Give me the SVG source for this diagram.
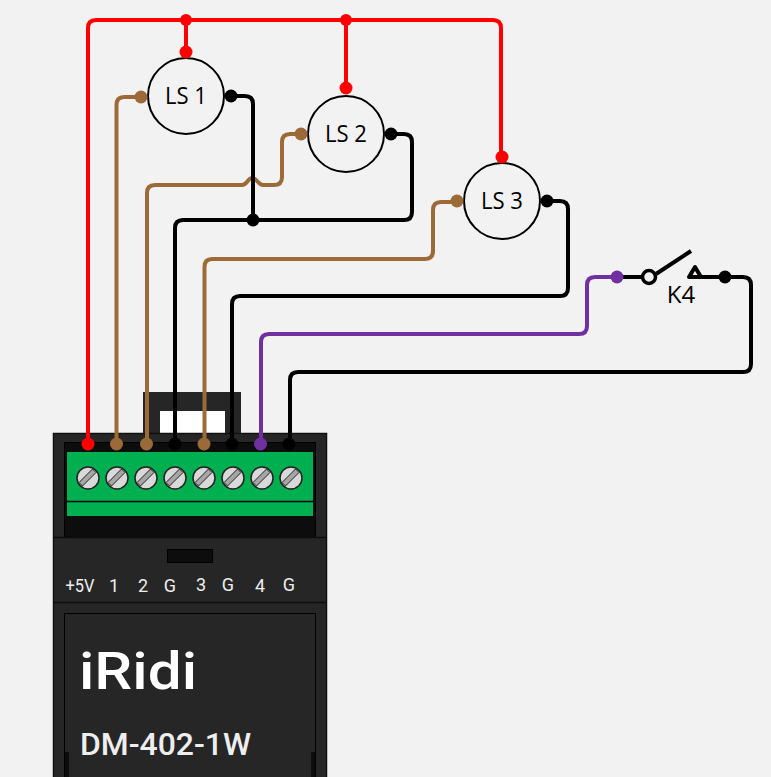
<svg xmlns="http://www.w3.org/2000/svg" width="771" height="777" viewBox="0 0 771 777">
<style>
.w{fill:none;stroke-width:4;stroke-linejoin:round}
.red{stroke:#f00}.brn{stroke:#9c6a37}.blk{stroke:#000}.pur{stroke:#7030a0}
.dr{fill:#f00}.db{fill:#9c6a37}.dk{fill:#000}.dp{fill:#7030a0}
.ls{fill:#f2f2f2;stroke:#000;stroke-width:2}
.lt{font:24px "Open Sans",sans-serif;fill:#000;text-anchor:middle}
.tl{font:18px "Roboto",sans-serif;fill:#eee;text-anchor:middle}
.scr{fill:#d9d9d9;stroke:#222;stroke-width:1.5}
.slot{fill:#a6a6a6;stroke:#222;stroke-width:1}
</style>
<defs>
<g id="screw"><circle class="scr" r="11"/><path class="slot" d="M-9,4.500L4.500,-9L8,-5.500L-5.500,8Z"/></g>
</defs>
<rect width="771" height="777" fill="#f2f2f2"/>
<g id="module">
<path d="M143,433V392H241V433Z" fill="#262626"/>
<rect x="160" y="411" width="65" height="22" fill="#fff"/>
<rect x="53.500" y="433.500" width="273" height="350" fill="#262626" stroke="#111" stroke-width="1.500"/>
<rect x="64.500" y="442.500" width="251" height="95" fill="#0d0d0d" stroke="#000"/>
<rect x="67" y="452" width="246" height="64" fill="#00b050"/>
<path d="M67,501.500H313" stroke="#000" stroke-width="1.500"/>
<path d="M54,537.500H326M54,602.500H326" stroke="#0d0d0d" stroke-width="1.500"/>
<rect x="167.500" y="549.500" width="45" height="13" fill="#0d0d0d" stroke="#000"/>
<use href="#screw" x="88" y="478"/><use href="#screw" x="117" y="478"/><use href="#screw" x="146" y="478"/><use href="#screw" x="175" y="478"/>
<use href="#screw" x="204" y="478"/><use href="#screw" x="233" y="478"/><use href="#screw" x="262" y="478"/><use href="#screw" x="291" y="478"/>
<text class="tl" x="80" y="592" textLength="29" lengthAdjust="spacingAndGlyphs">+5V</text><text class="tl" x="114" y="592">1</text><text class="tl" x="143" y="592">2</text><text class="tl" x="170" y="592">G</text>
<text class="tl" x="201" y="591">3</text><text class="tl" x="228" y="591">G</text><text class="tl" x="260" y="592">4</text><text class="tl" x="289" y="591">G</text>
<rect x="64.500" y="613.500" width="251" height="170" fill="#262626" stroke="#000"/>
<rect x="65" y="752" width="4" height="25" fill="#0d0d0d"/><rect x="311" y="752" width="4" height="25" fill="#0d0d0d"/>
<text x="79" y="689" font-family="Roboto,sans-serif" font-weight="500" font-size="52" fill="#fff" textLength="118" lengthAdjust="spacingAndGlyphs">iRidi</text>
<text x="80" y="755" font-family="Roboto,sans-serif" font-weight="500" font-size="32" fill="#eee" textLength="171" lengthAdjust="spacingAndGlyphs">DM-402-1W</text>
</g>
<g id="connectors">
<path class="w red" d="M88,444V28Q88,20 96,20H493Q501,20 501,28V157M186,20V52M346,20V88"/>
<path class="w brn" d="M116.500,444V105Q116.500,97 124,97H141"/>
<path class="w brn" d="M147,444V193Q147,185 155,185H242C247,185 248,178 252,178C257,178 258,185 263,185H274Q282,185 282,177V142Q282,134 290,134H301"/>
<path class="w brn" d="M204.500,444V267Q204.500,259 212,259H425Q433,259 433,251V210Q433,202 441,202H457"/>
<path class="w blk" d="M231,96H245Q253,96 253,104V220"/>
<path class="w blk" d="M391,134H404Q412,134 412,142V212Q412,220 404,220H183Q175,220 175,228V444"/>
<path class="w blk" d="M546,201H560Q568,201 568,209V288Q568,296 560,296H240Q232,296 232,304V444"/>
<path class="w pur" d="M261,444V342Q261,334 269,334H579Q587,334 587,326V285Q587,277 595,277H617"/>
<path class="w blk" d="M617,277H642"/>
<path class="w blk" d="M656,274L691,251"/>
<path class="w blk" d="M689,277L695,267L701,277ZM701,277H725" stroke-width="3.500"/>
<path class="w blk" d="M725,277H743Q751,277 751,285V364Q751,372 743,372H298Q290,372 290,380V444"/>
<circle cx="649" cy="277" r="6.500" fill="#f2f2f2" stroke="#000" stroke-width="3.500"/>
<g class="dr"><circle cx="88" cy="444" r="6.500"/><circle cx="186" cy="20" r="6"/><circle cx="346" cy="20" r="6"/></g>
<g class="db"><circle cx="116.500" cy="444" r="6.500"/><circle cx="146.500" cy="444" r="6.500"/><circle cx="204" cy="444" r="6.500"/></g>
<g class="dk"><circle cx="175" cy="444" r="6.500"/><circle cx="232" cy="444" r="6.500"/><circle cx="289" cy="444" r="6.500"/><circle cx="253" cy="220" r="6.500"/><circle cx="725" cy="277" r="6.500"/></g>
<circle class="dp" cx="260.500" cy="444" r="6.500"/><circle class="dp" cx="617" cy="277" r="6.500"/>
</g>
<g id="ls1"><circle class="ls" cx="186" cy="96" r="38"/><circle class="dr" cx="186" cy="52" r="6.500"/><circle class="db" cx="141" cy="97" r="6.500"/><circle class="dk" cx="231" cy="96" r="6.500"/><text class="lt" x="186" y="104" textLength="42" lengthAdjust="spacingAndGlyphs">LS 1</text></g>
<g id="ls2"><circle class="ls" cx="346" cy="134" r="38"/><circle class="dr" cx="346" cy="88" r="6.500"/><circle class="db" cx="301" cy="134" r="6.500"/><circle class="dk" cx="391" cy="134" r="6.500"/><text class="lt" x="346" y="142" textLength="42" lengthAdjust="spacingAndGlyphs">LS 2</text></g>
<g id="ls3"><circle class="ls" cx="502" cy="201" r="38"/><circle class="dr" cx="502" cy="157" r="6.500"/><circle class="db" cx="457" cy="201" r="6.500"/><circle class="dk" cx="547" cy="201" r="6.500"/><text class="lt" x="502" y="209" textLength="42" lengthAdjust="spacingAndGlyphs">LS 3</text></g>
<g id="k4"><text x="681" y="303" font-family="Open Sans,sans-serif" font-size="24" text-anchor="middle">K4</text></g>
</svg>
